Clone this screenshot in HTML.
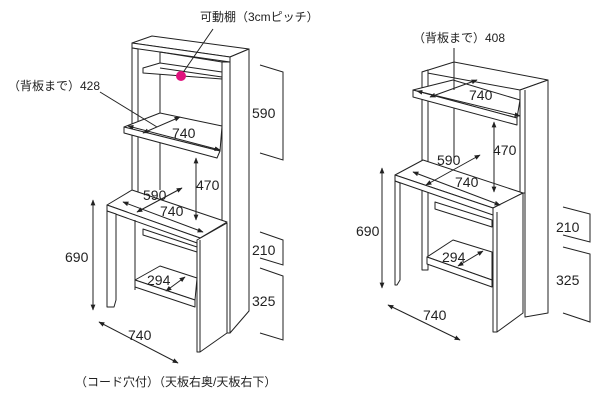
<!DOCTYPE html>
<html><head><meta charset="utf-8"><style>
html,body{margin:0;padding:0;background:#fff;}
svg{display:block;}
text{font-family:"Liberation Sans","Noto Sans CJK JP",sans-serif;fill:#222;}
</style></head><body>
<svg width="600" height="400" viewBox="0 0 600 400" xmlns="http://www.w3.org/2000/svg">
<defs>
<marker id="a" viewBox="0 0 10 10" refX="9" refY="5" markerWidth="6" markerHeight="6" orient="auto-start-reverse"><path d="M0,1 L10,5 L0,9 z" fill="#222"/></marker>
</defs>
<g fill="#fff" stroke="#222" stroke-width="1" stroke-linejoin="round">
<!-- LEFT UNIT -->
<polygon points="132,43 152,36 249,49 230,57"/>
<polygon points="132,43 230,57 230,62 132,48"/>
<polygon points="230,57 249,49 249,311 230,333"/>
<polygon points="222,62 230,62 230,333 222,333"/>
<polygon points="132,48 138,49 138,200 132,200"/>
<line x1="160" y1="52" x2="160" y2="190"/>
<line x1="160" y1="52" x2="222" y2="62"/>
<!-- upper shelf -->
<polygon points="143,68 160,63 222,72 222,79 143,73"/>
<line x1="160" y1="68" x2="222" y2="77"/>
<!-- mid shelf -->
<polygon points="124,127 160,113 222,126 220,151"/>
<polygon points="124,127 220,151 217,158 124,133"/>
<!-- desk -->
<polygon points="107,205 132,190 227,222 200,238"/>
<polygon points="107,205 200,238 200,244 107,211"/>
<polygon points="107,211 116,214 116,300 114,307 107,307"/>
<line x1="135" y1="220" x2="135" y2="290"/>
<polygon points="197,240 227,223 227,333 200,352 197,352"/>
<line x1="200" y1="240" x2="200" y2="352"/>
<polygon points="143,229 197,247 197,252 143,235"/>
<polygon points="135,280 160,266 197,278 195,300"/>
<polygon points="135,280 195,300 195,307 135,287"/>
<!-- RIGHT UNIT -->
<polygon points="422,72 454,62 548,80 520,90"/>
<polygon points="422,72 428,70 428,270 422,270"/>
<line x1="454" y1="62" x2="454" y2="160"/>
<polygon points="520,90 548,80 548,313 525,317 525,193 520,193"/>
<line x1="525" y1="90" x2="525" y2="193"/>
<polygon points="413,90 453,80 520,100 517,118"/>
<polygon points="413,90 517,118 517,125 413,97"/>
<polygon points="395,175 423,160 523,193 493,208"/>
<polygon points="395,175 493,208 493,215 395,181"/>
<polygon points="395,181 400,183 400,280 397,285 395,285"/>
<polygon points="493,208 523,193 523,313 497,332 493,332"/>
<line x1="497" y1="212" x2="497" y2="332"/>
<polygon points="435,202 492,220 492,227 435,209"/>
<polygon points="427,257 453,240 492,252 492,280"/>
<polygon points="427,257 492,280 492,287 427,264"/>
</g>
<g stroke="#222" stroke-width="1" fill="none">
<!-- left dims -->
<line x1="93" y1="200" x2="93" y2="310" marker-start="url(#a)" marker-end="url(#a)"/>
<line x1="99" y1="322" x2="178" y2="363" marker-start="url(#a)" marker-end="url(#a)"/>
<line x1="123" y1="202" x2="203" y2="232" marker-start="url(#a)" marker-end="url(#a)"/>
<line x1="137" y1="212" x2="182" y2="188" marker-start="url(#a)" marker-end="url(#a)"/>
<line x1="196" y1="158" x2="196" y2="220" marker-start="url(#a)" marker-end="url(#a)"/>
<line x1="166" y1="291" x2="185" y2="277" marker-start="url(#a)" marker-end="url(#a)"/>
<line x1="128" y1="126" x2="220" y2="150" marker-start="url(#a)" marker-end="url(#a)"/>
<line x1="143" y1="133" x2="180" y2="117" marker-start="url(#a)" marker-end="url(#a)"/>
<line x1="100" y1="92" x2="157" y2="127"/>
<line x1="213" y1="29" x2="182" y2="74"/>
<polyline points="260,65 283,72 283,160 260,153"/>
<polyline points="260,232 283,240 283,265 260,258"/>
<polyline points="260,268 283,276 283,340 260,333"/>
<!-- right dims -->
<line x1="382" y1="168" x2="382" y2="288" marker-start="url(#a)" marker-end="url(#a)"/>
<line x1="388" y1="305" x2="460" y2="340" marker-start="url(#a)" marker-end="url(#a)"/>
<line x1="454" y1="48" x2="454" y2="90"/>
<line x1="417" y1="91" x2="520" y2="116" marker-start="url(#a)" marker-end="url(#a)"/>
<line x1="430" y1="97" x2="477" y2="80" marker-start="url(#a)" marker-end="url(#a)"/>
<line x1="494" y1="122" x2="494" y2="192" marker-start="url(#a)" marker-end="url(#a)"/>
<line x1="413" y1="172" x2="500" y2="205" marker-start="url(#a)" marker-end="url(#a)"/>
<line x1="426" y1="185" x2="480" y2="155" marker-start="url(#a)" marker-end="url(#a)"/>
<line x1="458" y1="266" x2="483" y2="251" marker-start="url(#a)" marker-end="url(#a)"/>
<polyline points="563,207 590,214 590,242 563,235"/>
<polyline points="563,247 590,254 590,322 563,313"/>
</g>
<circle cx="181" cy="76" r="5" fill="#e0137e"/>
<g font-size="14">
<text x="252" y="118">590</text>
<text x="252" y="255">210</text>
<text x="252" y="306">325</text>
<text x="65" y="262">690</text>
<text x="128" y="340">740</text>
<text x="143" y="200">590</text>
<text x="160" y="216">740</text>
<text x="196" y="190">470</text>
<text x="147" y="285">294</text>
<text x="172" y="138">740</text>
<text x="356" y="236">690</text>
<text x="423" y="320">740</text>
<text x="469" y="100">740</text>
<text x="437" y="165">590</text>
<text x="455" y="187">740</text>
<text x="493" y="155">470</text>
<text x="442" y="262">294</text>
<text x="556" y="232">210</text>
<text x="556" y="285">325</text>
</g>
<g font-size="12">
<text x="200" y="21">可動棚（3cmピッチ）</text>
<text x="8" y="90">（背板まで）428</text>
<text x="413" y="42">（背板まで）408</text>
<text x="75" y="386">（コード穴付）（天板右奥/天板右下）</text>
</g>
</svg>
</body></html>
